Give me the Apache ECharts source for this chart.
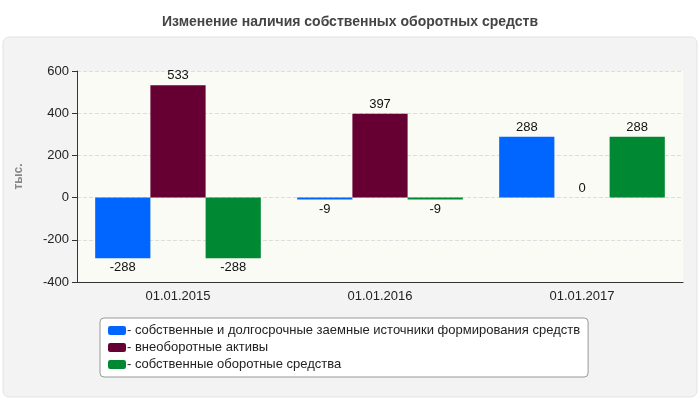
<!DOCTYPE html>
<html><head><meta charset="utf-8">
<script src="https://cdn.jsdelivr.net/npm/echarts@6/dist/echarts.min.js"></script>
<style>html,body{margin:0;padding:0;background:#fff}#c{width:700px;height:400px}</style>
</head><body><div id="c"></div>
<script>
const categories = ['01.01.2015','01.01.2016','01.01.2017'];
const seriesNames = ['собственные и долгосрочные заемные источники формирования средств','внеоборотные активы','собственные оборотные средства'];
const ownLong = [-288, -9, 288];
const nonCurrent = [533, 397, 0];
const ownCurrent = [-288, -9, 288];
const colors = ['#0066ff', '#660033', '#008833'];
const chart = echarts.init(document.getElementById('c'));
const lbl = {show:true, color:'#111', fontSize:13, fontFamily:'Arial',
  formatter:p=>p.value, position:'top', distance:3};
function mk(name, data, color){
  return {name, type:'bar', data: data.map(v=>({value:v, label:{position: v<0?'bottom':'top'}})),
    itemStyle:{color}, barGap:'0%', barCategoryGap:'18%', label:lbl};
}
chart.setOption({
  animation:false,
  title:{text:'Изменение наличия собственных оборотных средств', left:'center', top:10,
    textStyle:{fontSize:14, fontWeight:'bold', color:'#444', fontFamily:'Arial'}},
  graphic:[{type:'rect', z:-10, shape:{x:3,y:37,width:694,height:360,r:6},
    style:{fill:'#f3f3f3', stroke:'#e2e2e2', lineWidth:1}}],
  grid:{left:77, right:17, top:71, bottom:118, show:true, backgroundColor:'#fbfbf6', borderWidth:0},
  xAxis:{type:'category', data:categories,
    axisLine:{onZero:false, lineStyle:{color:'#333'}}, axisTick:{alignWithLabel:true, lineStyle:{color:'#333'}},
    axisLabel:{color:'#222', fontSize:13, fontFamily:'Arial', margin:8},
    splitLine:{show:false}},
  yAxis:{type:'value', min:-400, max:600, interval:200, name:'тыс.', nameLocation:'middle', nameGap:52,
    nameTextStyle:{color:'#888', fontWeight:'bold', fontSize:12, fontFamily:'Arial'},
    axisLine:{show:true, lineStyle:{color:'#333'}}, axisTick:{show:true, lineStyle:{color:'#333'}},
    axisLabel:{color:'#222', fontSize:13, fontFamily:'Arial'},
    splitLine:{lineStyle:{type:'dashed', color:'#ddd'}}},
  legend:{orient:'vertical', left:100, top:318, itemWidth:18, itemHeight:9, itemGap:4,
    icon:'roundRect', backgroundColor:'#fff', borderColor:'#999', borderWidth:1, borderRadius:4,
    padding:[6,8,6,8], formatter:n=>'- '+n,
    textStyle:{color:'#222', fontSize:13, fontFamily:'Arial', padding:[0,0,0,-4]}, data:seriesNames},
  series:[mk(seriesNames[0], ownLong, colors[0]), mk(seriesNames[1], nonCurrent, colors[1]), mk(seriesNames[2], ownCurrent, colors[2])]
});
</script></body></html>
